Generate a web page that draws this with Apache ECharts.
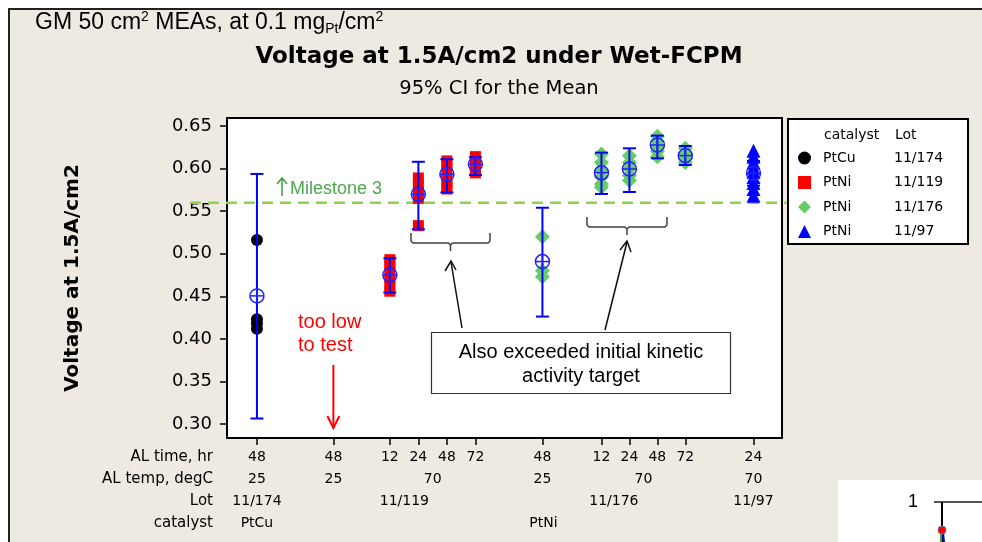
<!DOCTYPE html>
<html>
<head>
<meta charset="utf-8">
<script src="https://cdn.jsdelivr.net/npm/echarts@6/dist/echarts.min.js"></script>
<style>
  html, body { margin: 0; padding: 0; background: #ffffff; }
  #chart { width: 982px; height: 542px; }
</style>
</head>
<body>
<div id="chart"></div>
<script>
// ---- test conditions: one slot per AL time, laid out along the x axis ----
const slotX = [0, 2.68, 4.66, 5.66, 6.66, 7.66, 10.01, 12.08, 13.06, 14.04, 15.02, 17.41];
const alTime = ['48', '48', '12', '24', '48', '72', '48', '12', '24', '48', '72', '24'];
// grouped label rows: [text, first slot, last slot]
const alTemp = [['25', 0, 0], ['25', 1, 1], ['70', 2, 5], ['25', 6, 6], ['70', 7, 10], ['70', 11, 11]];
const lotRow = [['11/174', 0, 0], ['11/119', 1, 5], ['11/176', 6, 10], ['11/97', 11, 11]];
const catalystRow = [['PtCu', 0, 0], ['PtNi', 1, 11]];

// ---- individual MEA voltages (V) at 1.5 A/cm2 ----
const ptcu174Slots = [0];
const ptcu174Values = [[0.516, 0.423, 0.418, 0.412]];

const ptni119Slots = [2, 3, 4, 5];
const ptni119Values = [
  [0.493, 0.487, 0.479, 0.471, 0.463, 0.456],
  [0.589, 0.581, 0.573, 0.565, 0.533],
  [0.609, 0.603, 0.596, 0.588, 0.580, 0.576],
  [0.614, 0.610, 0.605, 0.600, 0.595]
];

const ptni176Slots = [6, 7, 8, 9, 10];
const ptni176Values = [
  [0.520, 0.480, 0.473],
  [0.617, 0.607, 0.598, 0.590, 0.582, 0.578],
  [0.615, 0.607, 0.600, 0.592, 0.586],
  [0.638, 0.632, 0.626, 0.620, 0.614],
  [0.624, 0.618, 0.612, 0.607]
];

const ptni97Slots = [11];
const ptni97Values = [[0.621, 0.614, 0.607, 0.601, 0.596, 0.590, 0.583, 0.576, 0.568]];

// ---- 95% CI for the mean, per slot (null = not tested) ----
const meanV  = [0.4505, null, 0.4751, 0.5698, 0.5933, 0.6050, 0.4908, 0.5952, 0.5995, 0.6277, 0.6152, 0.5945];
const ciLow  = [0.3065, null, 0.4544, 0.5287, 0.5720, 0.5925, 0.4262, 0.5702, 0.5725, 0.6120, 0.6042, 0.5800];
const ciHigh = [0.5937, null, 0.4947, 0.6080, 0.6110, 0.6133, 0.5540, 0.6187, 0.6238, 0.6387, 0.6265, 0.6090];

const milestone = 0.56;
const yTicks = [0.30, 0.35, 0.40, 0.45, 0.50, 0.55, 0.60, 0.65];

function pointsOf(slots, values) {
  const out = [];
  slots.forEach((s, i) => values[i].forEach(v => out.push([slotX[s], v])));
  return out;
}

const ciData = [];
meanV.forEach((m, i) => {
  if (m !== null) ciData.push([slotX[i], ciLow[i], ciHigh[i], m]);
});

const FONT = 'DejaVu Sans';
const ARIAL = 'Liberation Sans';
const slotIndex = v => slotX.findIndex(s => Math.abs(s - v) < 1e-6);

const option = {
  backgroundColor: '#eeeae1',
  animation: false,
  grid: {
    left: 227, top: 118, width: 555, height: 320,
    show: true, backgroundColor: '#ffffff', borderColor: '#000000', borderWidth: 2
  },
  xAxis: {
    type: 'value', min: -1.05, max: 18.41,
    axisLine: { show: false, onZero: false },
    splitLine: { show: false },
    axisTick: { show: true, customValues: slotX, length: 7, lineStyle: { color: '#000', width: 1.5 } },
    axisLabel: {
      customValues: slotX, margin: 12, fontFamily: FONT, fontSize: 14, color: '#000',
      formatter: v => { const i = slotIndex(v); return i >= 0 ? alTime[i] : ''; }
    }
  },
  yAxis: {
    type: 'value', min: 0.2836, max: 0.6594,
    name: 'Voltage at 1.5A/cm2', nameLocation: 'middle', nameGap: 144, nameRotate: 90,
    nameTextStyle: { fontFamily: FONT, fontWeight: 'bold', fontSize: 20, color: '#000' },
    axisLine: { show: false, onZero: false },
    splitLine: { show: false },
    axisTick: { show: true, customValues: yTicks, length: 7, lineStyle: { color: '#000', width: 1.5 } },
    axisLabel: {
      customValues: yTicks, margin: 15, fontFamily: FONT, fontSize: 18, color: '#000',
      formatter: v => v.toFixed(2)
    }
  },
  title: [
    { text: 'Voltage at 1.5A/cm2 under Wet-FCPM', left: 494, top: 41, textAlign: 'center',
      textStyle: { fontFamily: FONT, fontWeight: 'bold', fontSize: 23, color: '#000' } },
    { text: '95% CI for the Mean', left: 494, top: 74, textAlign: 'center',
      textStyle: { fontFamily: FONT, fontWeight: 'normal', fontSize: 19.5, color: '#000' } }
  ],
  legend: {
    orient: 'vertical', left: 798, top: 151, padding: 0,
    itemWidth: 13, itemHeight: 13, itemGap: 10.5, selectedMode: false,
    textStyle: {
      fontFamily: FONT, fontSize: 14, color: '#000',
      rich: { c: { fontFamily: FONT, fontSize: 14, width: 71, padding: [0, 0, 0, 7] },
              l: { fontFamily: FONT, fontSize: 14 } }
    },
    formatter: name => { const p = name.split('|'); return '{c|' + p[0] + '}{l|' + p[1] + '}'; },
    data: [
      { name: 'PtCu|11/174', icon: 'circle' },
      { name: 'PtNi|11/119', icon: 'rect' },
      { name: 'PtNi|11/176', icon: 'diamond' },
      { name: 'PtNi|11/97', icon: 'triangle' }
    ]
  },
  series: [
    { name: 'PtCu|11/174', type: 'scatter', symbol: 'circle', symbolSize: 12,
      itemStyle: { color: '#000000', opacity: 1 }, data: pointsOf(ptcu174Slots, ptcu174Values) },
    { name: 'PtNi|11/119', type: 'scatter', symbol: 'rect', symbolSize: 11,
      itemStyle: { color: '#ff0000', opacity: 1 }, data: pointsOf(ptni119Slots, ptni119Values) },
    { name: 'PtNi|11/176', type: 'scatter', symbol: 'diamond', symbolSize: 15,
      itemStyle: { color: '#66cc66', opacity: 1 }, data: pointsOf(ptni176Slots, ptni176Values) },
    { name: 'PtNi|11/97', type: 'scatter', symbol: 'triangle', symbolSize: 14,
      itemStyle: { color: '#0000ff', opacity: 1 }, data: pointsOf(ptni97Slots, ptni97Values) },
    {
      name: 'CI', type: 'custom', z: 5, silent: true,
      encode: { x: 0, y: [1, 2, 3] },
      data: ciData,
      renderItem: (params, api) => {
        const x = api.value(0);
        const lo = api.coord([x, api.value(1)]);
        const hi = api.coord([x, api.value(2)]);
        const m = api.coord([x, api.value(3)]);
        const cw = 6.5, r = 7;
        const bar = { stroke: '#0000ff', lineWidth: 2, fill: null };
        const ring = { stroke: '#2222ff', lineWidth: 1.5, fill: null };
        return {
          type: 'group',
          children: [
            { type: 'line', shape: { x1: lo[0], y1: lo[1], x2: hi[0], y2: hi[1] }, style: bar },
            { type: 'line', shape: { x1: lo[0] - cw, y1: lo[1], x2: lo[0] + cw, y2: lo[1] }, style: bar },
            { type: 'line', shape: { x1: hi[0] - cw, y1: hi[1], x2: hi[0] + cw, y2: hi[1] }, style: bar },
            { type: 'circle', shape: { cx: m[0], cy: m[1], r: r }, style: ring },
            { type: 'line', shape: { x1: m[0] - r, y1: m[1], x2: m[0] + r, y2: m[1] }, style: ring },
            { type: 'line', shape: { x1: m[0], y1: m[1] - r, x2: m[0], y2: m[1] + r }, style: ring }
          ]
        };
      }
    }
  ]
};

const chart = echarts.init(document.getElementById('chart'));
chart.setOption(option);

const px = x => chart.convertToPixel({ xAxisIndex: 0 }, x);
const py = y => chart.convertToPixel({ yAxisIndex: 0 }, y);

const g = [];
const text = (x, y, str, opt) => g.push({
  type: 'text', x: x, y: y,
  style: Object.assign({ text: str, fontFamily: FONT, fontSize: 14, fill: '#000',
    align: 'center', verticalAlign: 'middle' }, opt || {})
});
const line = (x1, y1, x2, y2, color, w, dash) => g.push({
  type: 'line', shape: { x1, y1, x2, y2 },
  style: { stroke: color, lineWidth: w, lineDash: dash || null }
});
const poly = (pts, color, w) => g.push({
  type: 'polyline', shape: { points: pts }, style: { stroke: color, lineWidth: w, fill: null }
});

// outer white margin and frame
g.push({ type: 'rect', shape: { x: 0, y: 0, width: 982, height: 8 }, style: { fill: '#ffffff' } });
g.push({ type: 'rect', shape: { x: 0, y: 0, width: 8, height: 542 }, style: { fill: '#ffffff' } });
g.push({ type: 'rect', shape: { x: 9, y: 9, width: 990, height: 550 }, style: { fill: null, stroke: '#222', lineWidth: 2 } });

// header with super/subscripts
g.push({
  type: 'text', x: 35, y: 10,
  style: {
    text: 'GM 50 cm{sup|2} MEAs, at 0.1 mg{sub|Pt}/cm{sup|2}',
    fontFamily: ARIAL, fontSize: 23, fill: '#000', lineHeight: 26,
    rich: {
      sup: { fontFamily: ARIAL, fontSize: 14, lineHeight: 14, verticalAlign: 'top' },
      sub: { fontFamily: ARIAL, fontSize: 14, lineHeight: 14, verticalAlign: 'bottom' }
    }
  }
});

// label rows below the x axis
const rowY = [479, 501, 523];
const rowNames = ['AL temp, degC', 'Lot', 'catalyst'];
text(213, 457, 'AL time, hr', { align: 'right', fontSize: 15 });
[alTemp, lotRow, catalystRow].forEach((row, r) => {
  text(213, rowY[r], rowNames[r], { align: 'right', fontSize: 15 });
  row.forEach(([label, a, b]) => text(px((slotX[a] + slotX[b]) / 2), rowY[r], label));
});

// milestone line and its note
const my = py(milestone);
line(190, my, 797, my, '#92d050', 2.5, [11, 7]);
const green = '#3d9a3d';
poly([[277, 184], [282, 178], [287, 184]], green, 1.5);
line(282, 178, 282, 196, green, 1.5);
text(290, my - 14, 'Milestone 3', { align: 'left', fontFamily: ARIAL, fontSize: 18, fill: '#4ea64e' });

// untested condition
const red = '#ff0000';
text(298, 322, 'too low', { align: 'left', fontFamily: ARIAL, fontSize: 20, fill: red });
text(298, 345, 'to test', { align: 'left', fontFamily: ARIAL, fontSize: 20, fill: red });
const xo = px(slotX[1]);
line(xo, 365, xo, 428, red, 2);
poly([[xo - 6, 416], [xo, 428], [xo + 6, 416]], red, 2);

// braces and callout
const brace = (x1, x2, yTop, yBar, yTip) => {
  const xm = (x1 + x2) / 2;
  poly([[x1, yTop], [x1, yBar - 2], [x1 + 2, yBar], [xm - 2, yBar], [xm, yBar + 2], [xm, yTip]], '#404040', 1.5);
  poly([[x2, yTop], [x2, yBar - 2], [x2 - 2, yBar], [xm + 2, yBar], [xm, yBar + 2]], '#404040', 1.5);
};
brace(411, 490, 233, 243, 251);
brace(587, 667, 217, 227, 235);

line(462, 328, 451, 262, '#111', 1.5);
poly([[445, 271], [451, 261], [456, 270]], '#111', 1.5);
line(605, 330, 627, 242, '#111', 1.5);
poly([[620, 250], [627, 241], [631, 252]], '#111', 1.5);

g.push({ type: 'rect', shape: { x: 431.5, y: 332.5, width: 299, height: 61 },
  style: { fill: '#ffffff', stroke: '#333', lineWidth: 1.2 } });
text(581, 352, 'Also exceeded initial kinetic', { fontFamily: ARIAL, fontSize: 20 });
text(581, 376, 'activity target', { fontFamily: ARIAL, fontSize: 20 });

// legend frame and header
g.push({ type: 'rect', shape: { x: 788, y: 119, width: 180, height: 125 },
  style: { fill: '#ffffff', stroke: '#000', lineWidth: 2 } });
text(824, 135, 'catalyst', { align: 'left' });
text(895, 135, 'Lot', { align: 'left' });

// neighbouring panel peeking in at the lower right
g.push({ type: 'rect', shape: { x: 838, y: 480, width: 160, height: 70 }, style: { fill: '#ffffff' } });
text(913, 502, '1', { fontFamily: ARIAL, fontSize: 18 });
line(934, 502, 982, 502, '#555', 2);
line(942, 502, 942, 542, '#000', 2);
line(941, 532, 941, 542, '#33aa33', 2);
line(943, 532, 944, 542, '#0000ff', 2);
g.push({ type: 'circle', shape: { cx: 942, cy: 530, r: 4 }, style: { fill: '#ff0000', stroke: '#777', lineWidth: 1 } });

chart.setOption({ graphic: { elements: g.map(e => Object.assign({ z: 1 }, e)) } });
</script>
</body>
</html>
